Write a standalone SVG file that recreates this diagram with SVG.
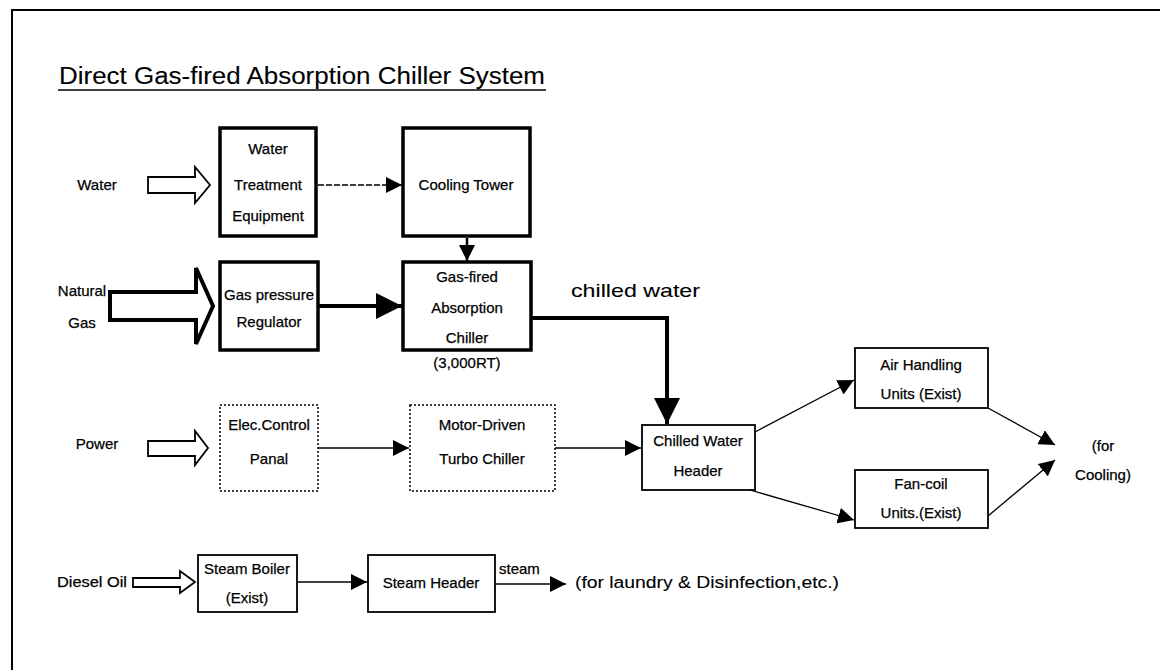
<svg xmlns="http://www.w3.org/2000/svg" width="1160" height="670" viewBox="0 0 1160 670">
<defs>
<style>
text{font-family:"Liberation Sans",Arial,sans-serif;font-size:15px;fill:#000;stroke:#000;stroke-width:0.25;text-anchor:middle}
.lbl{text-anchor:start}
.lt{stroke-width:0.1}
.thick{fill:#fff;stroke:#000;stroke-width:3.5}
.thin{fill:#fff;stroke:#000;stroke-width:1.8}
.dot{fill:#fff;stroke:#000;stroke-width:1.5;stroke-dasharray:2 2}
.hollow{fill:#fff;stroke:#000;stroke-width:1.8;stroke-linejoin:miter}
.line{fill:none;stroke:#000;stroke-width:1.3}
.bold{fill:none;stroke:#000;stroke-width:4}
</style>
<marker id="ahL" viewBox="0 0 10 10" refX="10" refY="5" markerWidth="16" markerHeight="16" markerUnits="userSpaceOnUse" orient="auto"><path d="M0,0 L10,5 L0,10 Z" fill="#000"/></marker>
<marker id="ahXL" viewBox="0 0 10 10" refX="10" refY="5" markerWidth="26" markerHeight="26" markerUnits="userSpaceOnUse" orient="auto"><path d="M0,0 L10,5 L0,10 Z" fill="#000"/></marker>
</defs>
<rect width="1160" height="670" fill="#fff"/>
<path d="M12,670 L12,10 L1160,10" fill="none" stroke="#000" stroke-width="2"/>
<g id="title">
<text class="lbl lt" x="59" y="84" style="font-size:23px" textLength="486" lengthAdjust="spacingAndGlyphs">Direct Gas-fired Absorption Chiller System</text>
<line x1="58" y1="90" x2="546" y2="90" stroke="#000" stroke-width="1.5"/>
</g>
<g id="inputs">
<text x="97" y="190">Water</text>
<text x="82" y="296">Natural</text>
<text x="82" y="328">Gas</text>
<text x="97" y="449">Power</text>
<text x="92" y="587" textLength="70" lengthAdjust="spacingAndGlyphs">Diesel Oil</text>
<polygon class="hollow" points="148,177 195,177 195,167 210,185 195,203 195,193 148,193"/>
<polygon class="hollow" style="stroke-width:4" points="110,292 196,292 196,268 213,306 196,344 196,320 110,320"/>
<polygon class="hollow" points="148,441 195,441 195,431 208,448 195,465 195,456 148,456"/>
<polygon class="hollow" points="133,578 180,578 180,571 195,582 180,593 180,587 133,587"/>
</g>
<g id="water-treatment">
<rect class="thick" x="220" y="128" width="96" height="108"/>
<text x="268" y="154">Water</text>
<text x="268" y="190">Treatment</text>
<text x="268" y="221">Equipment</text>
</g>
<g id="cooling-tower">
<rect class="thick" x="403" y="128" width="127" height="108"/>
<text x="466" y="190">Cooling Tower</text>
</g>
<g id="gas-regulator">
<rect class="thick" x="220" y="262" width="98" height="88"/>
<text x="269" y="300">Gas pressure</text>
<text x="269" y="327">Regulator</text>
</g>
<g id="absorption-chiller">
<rect class="thick" x="403" y="262" width="128" height="88"/>
<text x="467" y="282">Gas-fired</text>
<text x="467" y="313">Absorption</text>
<text x="467" y="343">Chiller</text>
<text x="467" y="368">(3,000RT)</text>
</g>
<g id="elec-panel">
<rect class="dot" x="220" y="405" width="98" height="86"/>
<text x="269" y="430">Elec.Control</text>
<text x="269" y="464">Panal</text>
</g>
<g id="turbo-chiller">
<rect class="dot" x="410" y="405" width="145" height="86"/>
<text x="482" y="430">Motor-Driven</text>
<text x="482" y="464">Turbo Chiller</text>
</g>
<g id="cw-header">
<rect class="thin" x="642" y="425" width="113" height="65"/>
<text x="698" y="446">Chilled Water</text>
<text x="698" y="476">Header</text>
</g>
<g id="ahu">
<rect class="thin" x="855" y="348" width="133" height="60"/>
<text x="921" y="370">Air Handling</text>
<text x="921" y="399">Units (Exist)</text>
</g>
<g id="fcu">
<rect class="thin" x="855" y="470" width="133" height="58"/>
<text x="921" y="489">Fan-coil</text>
<text x="921" y="518">Units.(Exist)</text>
</g>
<g id="cooling-out">
<text x="1103" y="451">(for</text>
<text x="1103" y="480">Cooling)</text>
</g>
<g id="steam-boiler">
<rect class="thin" x="198" y="555" width="99" height="57"/>
<text x="247" y="574">Steam Boiler</text>
<text x="247" y="603">(Exist)</text>
</g>
<g id="steam-header">
<rect class="thin" x="368" y="555" width="127" height="57"/>
<text x="431" y="588">Steam Header</text>
</g>
<g id="steam-out">
<text class="lbl lt" x="575" y="588" style="font-size:16px" textLength="264" lengthAdjust="spacingAndGlyphs">(for laundry &amp; Disinfection,etc.)</text>
</g>
<g id="connectors">
<line class="line" x1="318" y1="185" x2="402" y2="185" stroke-dasharray="6 2" marker-end="url(#ahL)"/>
<line class="line" style="stroke-width:2.5" x1="467" y1="238" x2="467" y2="261" marker-end="url(#ahL)"/>
<line class="bold" x1="318" y1="306" x2="402" y2="306" marker-end="url(#ahXL)"/>
<path class="bold" d="M531,318 L667,318 L667,424" marker-end="url(#ahXL)"/>
<text class="lbl lt" x="571" y="297" style="font-size:19px" textLength="129" lengthAdjust="spacingAndGlyphs">chilled water</text>
<line class="line" x1="318" y1="448" x2="409" y2="448" marker-end="url(#ahL)"/>
<line class="line" x1="555" y1="448" x2="641" y2="448" marker-end="url(#ahL)"/>
<line class="line" x1="755" y1="432" x2="854" y2="380" marker-end="url(#ahL)"/>
<line class="line" x1="750" y1="490" x2="854" y2="520" marker-end="url(#ahL)"/>
<line class="line" x1="988" y1="408" x2="1055" y2="445" marker-end="url(#ahL)"/>
<line class="line" x1="988" y1="516" x2="1055" y2="460" marker-end="url(#ahL)"/>
<line class="line" x1="297" y1="582" x2="367" y2="582" marker-end="url(#ahL)"/>
<line class="line" x1="495" y1="584" x2="566" y2="584" marker-end="url(#ahL)"/>
<text class="lbl" x="499" y="574">steam</text>
</g>
</svg>
